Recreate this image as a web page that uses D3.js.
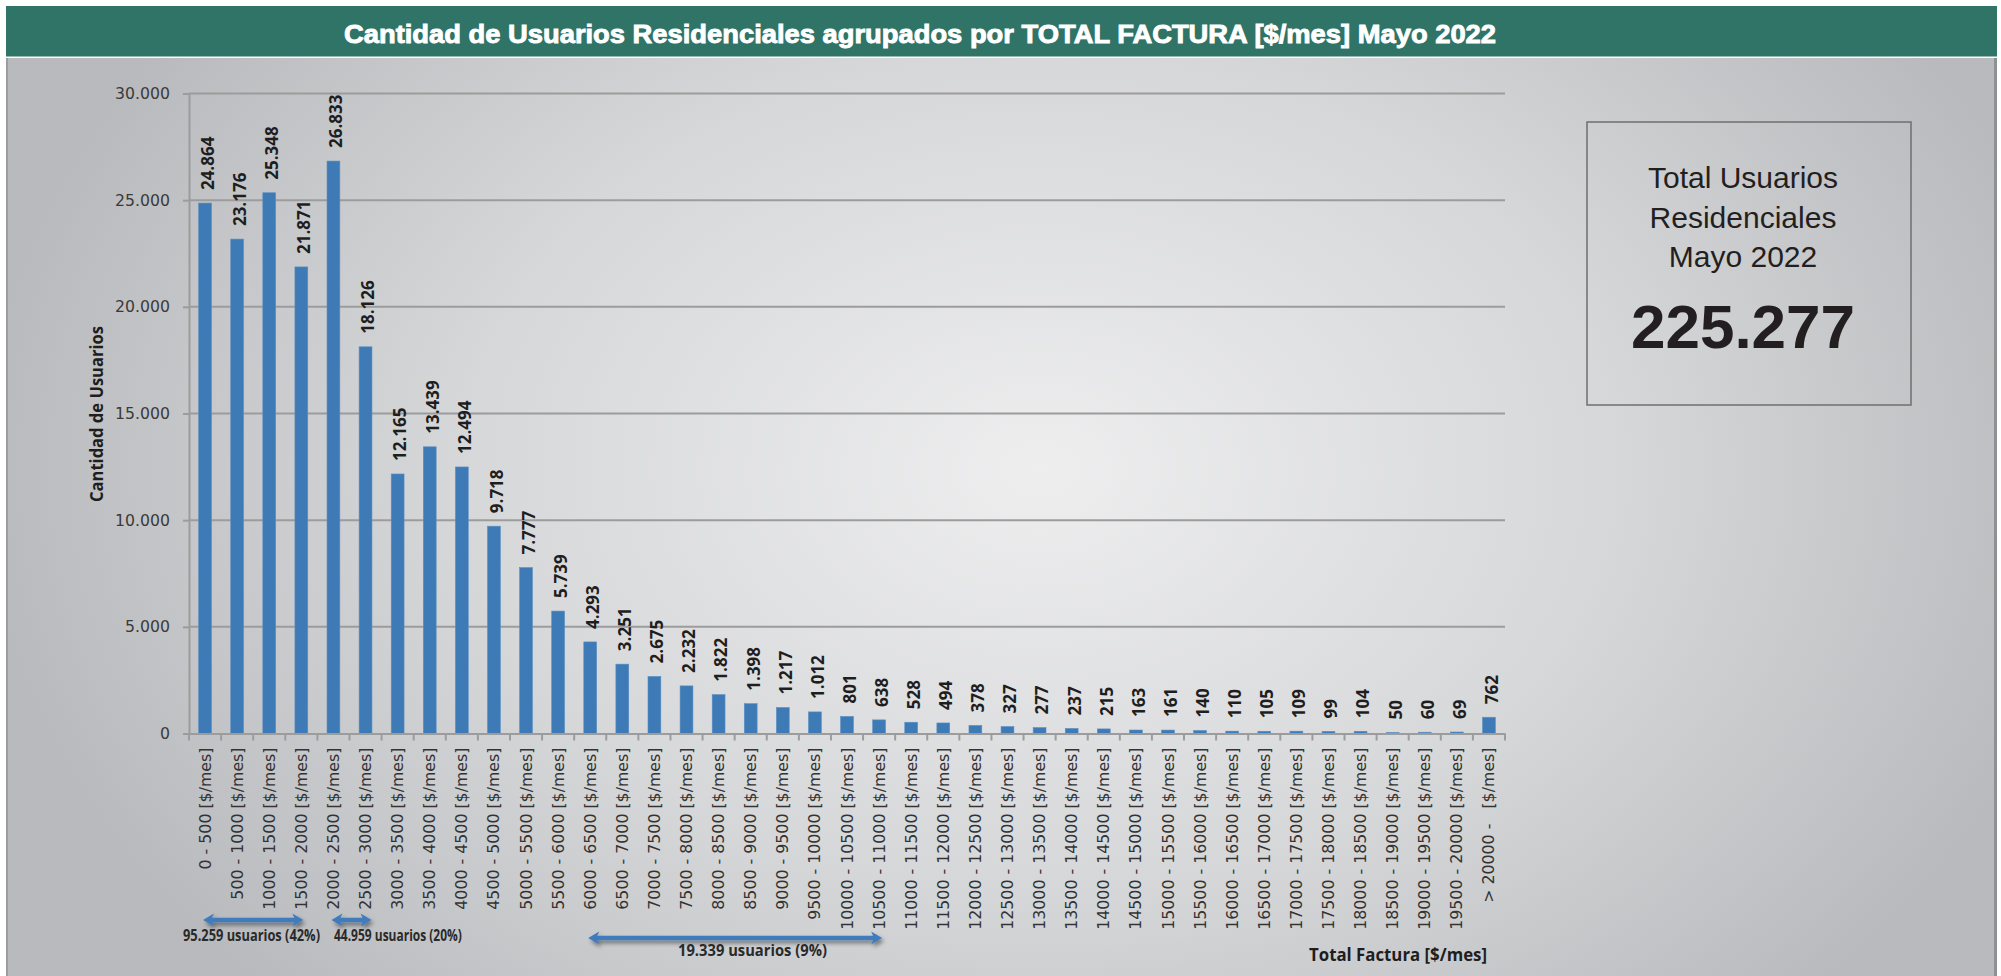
<!DOCTYPE html>
<html>
<head>
<meta charset="utf-8">
<script src="https://cdn.jsdelivr.net/npm/d3@7"></script>
<style>
  body { margin: 0; background: #fff; }
  svg { display: block; }
</style>
</head>
<body>
<div id="vis"></div>
<script>
// rangos de factura (categorias del eje x)
const rangos = [
  "0 - 500 [$/mes]", "500 - 1000 [$/mes]", "1000 - 1500 [$/mes]", "1500 - 2000 [$/mes]",
  "2000 - 2500 [$/mes]", "2500 - 3000 [$/mes]", "3000 - 3500 [$/mes]", "3500 - 4000 [$/mes]",
  "4000 - 4500 [$/mes]", "4500 - 5000 [$/mes]", "5000 - 5500 [$/mes]", "5500 - 6000 [$/mes]",
  "6000 - 6500 [$/mes]", "6500 - 7000 [$/mes]", "7000 - 7500 [$/mes]", "7500 - 8000 [$/mes]",
  "8000 - 8500 [$/mes]", "8500 - 9000 [$/mes]", "9000 - 9500 [$/mes]", "9500 - 10000 [$/mes]",
  "10000 - 10500 [$/mes]", "10500 - 11000 [$/mes]", "11000 - 11500 [$/mes]", "11500 - 12000 [$/mes]",
  "12000 - 12500 [$/mes]", "12500 - 13000 [$/mes]", "13000 - 13500 [$/mes]", "13500 - 14000 [$/mes]",
  "14000 - 14500 [$/mes]", "14500 - 15000 [$/mes]", "15000 - 15500 [$/mes]", "15500 - 16000 [$/mes]",
  "16000 - 16500 [$/mes]", "16500 - 17000 [$/mes]", "17000 - 17500 [$/mes]", "17500 - 18000 [$/mes]",
  "18000 - 18500 [$/mes]", "18500 - 19000 [$/mes]", "19000 - 19500 [$/mes]", "19500 - 20000 [$/mes]",
  "> 20000 -   [$/mes]"
];

// cantidad de usuarios por rango
const usuarios = [
  24864, 23176, 25348, 21871, 26833, 18126, 12165, 13439, 12494, 9718,
  7777, 5739, 4293, 3251, 2675, 2232, 1822, 1398, 1217, 1012,
  801, 638, 528, 494, 378, 327, 277, 237, 215, 163,
  161, 140, 110, 105, 109, 99, 104, 50, 60, 69,
  762
];

const yTicks = [0, 5000, 10000, 15000, 20000, 25000, 30000];

// grupos marcados con flechas (indice primero / ultimo rango)
const grupoDesde = [0, 4, 12];
const grupoHasta = [3, 5, 21];
const grupoTexto = ["95.259 usuarios (42%)", "44.959 usuarios (20%)", "19.339 usuarios (9%)"];

const titulo = "Cantidad de Usuarios Residenciales agrupados por TOTAL FACTURA [$/mes] Mayo 2022";
const totalLineas = ["Total Usuarios", "Residenciales", "Mayo 2022"];
const totalValor = "225.277";
const yTitulo = "Cantidad de Usuarios";
const xTitulo = "Total Factura [$/mes]";

function drawChart(){
  const width = 2001, height = 976;
  const plot = {left: 189, right: 1505, top: 93.5, bottom: 733.5};
  const blue = "#3e7ab6";
  const gridColor = "#9c9c9c";

  const es = d3.formatLocale({decimal: ",", thousands: ".", grouping: [3], currency: ["$", ""]});
  const fmt = es.format(",d");

  const svg = d3.select("#vis")
    .append("svg")
    .attr("width", width)
    .attr("height", height)
    .attr("viewBox", [0, 0, width, height]);

  const defs = svg.append("defs");
  const grad = defs.append("radialGradient")
    .attr("id", "fondo")
    .attr("gradientUnits", "userSpaceOnUse")
    .attr("cx", 0).attr("cy", 0).attr("r", 1)
    .attr("gradientTransform", "translate(1040,470) scale(1060,760)");
  grad.append("stop").attr("offset", 0).attr("stop-color", "#eeeeef");
  grad.append("stop").attr("offset", 0.55).attr("stop-color", "#d6d7d9");
  grad.append("stop").attr("offset", 1).attr("stop-color", "#b9babd");

  const shadow = defs.append("filter").attr("id", "sombra")
    .attr("x", "-10%").attr("y", "-100%").attr("width", "130%").attr("height", "300%");
  shadow.append("feDropShadow")
    .attr("dx", 2).attr("dy", 3).attr("stdDeviation", 2)
    .attr("flood-color", "#000").attr("flood-opacity", 0.45);

  // header
  svg.append("rect")
    .attr("x", 6).attr("y", 6).attr("width", 1991).attr("height", 50.5)
    .attr("fill", "#2f7467");
  svg.append("text")
    .attr("x", 920).attr("y", 43)
    .attr("text-anchor", "middle")
    .attr("textLength", 1152)
    .attr("lengthAdjust", "spacingAndGlyphs")
    .style("font-family", "'Liberation Sans', Arial, sans-serif")
    .style("font-weight", "bold")
    .style("font-size", "26px")
    .style("fill", "#fff")
    .style("stroke", "#fff")
    .style("stroke-width", "0.9px")
    .text(titulo);

  // panel
  svg.append("rect")
    .attr("x", 6).attr("y", 58).attr("width", 1991).attr("height", height - 58)
    .attr("fill", "url(#fondo)");
  svg.append("rect").attr("x", 6).attr("y", 58).attr("width", 2).attr("height", height - 58).attr("fill", "#9d9d9f");
  svg.append("rect").attr("x", 1994).attr("y", 58).attr("width", 3).attr("height", height - 58).attr("fill", "#8f9093");

  const x = d3.scaleBand()
    .domain(rangos)
    .range([plot.left, plot.right])
    .paddingInner(0.6)
    .paddingOuter(0.3);

  const y = d3.scaleLinear()
    .domain([0, 30000])
    .range([plot.bottom, plot.top]);

  const g = svg.append("g");

  // grid
  g.selectAll(".grid")
    .data(yTicks.filter(d => d > 0))
    .join("line")
    .attr("class", "grid")
    .attr("x1", plot.left).attr("x2", plot.right)
    .attr("y1", d => y(d)).attr("y2", d => y(d))
    .attr("stroke", gridColor)
    .attr("stroke-width", 2);

  // y axis
  const yAxis = g.append("g")
    .attr("transform", `translate(${plot.left},0)`)
    .call(d3.axisLeft(y).tickValues(yTicks).tickFormat(fmt).tickSize(6).tickPadding(13).tickSizeOuter(0));
  yAxis.select(".domain").attr("stroke", gridColor).attr("stroke-width", 2);
  yAxis.selectAll(".tick line").attr("stroke", gridColor).attr("stroke-width", 2);
  yAxis.selectAll("text")
    .style("font-family", "'DejaVu Sans', Verdana, sans-serif")
    .style("font-size", "15.7px")
    .style("fill", "#3a3a3a");

  // bars
  g.selectAll(".bar")
    .data(usuarios)
    .join("rect")
    .attr("class", "bar")
    .attr("x", (d, i) => x(rangos[i]))
    .attr("y", d => y(d))
    .attr("width", x.bandwidth())
    .attr("height", d => y(0) - y(d))
    .attr("fill", blue)
    .attr("stroke", "#5a8fc4")
    .attr("stroke-width", 0.6);

  // value labels
  g.selectAll(".valor")
    .data(usuarios)
    .join("text")
    .attr("class", "valor")
    .attr("transform", (d, i) => `translate(${x(rangos[i]) + x.bandwidth() / 2},${y(d) - 13}) rotate(-90)`)
    .attr("dy", "0.52em")
    .style("font-family", "'Open Sans', sans-serif")
    .style("font-weight", "bold")
    .style("font-size", "17px")
    .style("fill", "#1e1e1e")
    .text(d => fmt(d));

  // x axis
  const xAxis = g.append("g")
    .attr("transform", `translate(0,${plot.bottom})`)
    .call(d3.axisBottom(x).tickSize(0).tickSizeOuter(0));
  xAxis.select(".domain").attr("stroke", gridColor).attr("stroke-width", 2);
  xAxis.selectAll("text")
    .attr("transform", "rotate(-90)")
    .attr("x", -14)
    .attr("y", 0)
    .attr("dy", "0.35em")
    .style("text-anchor", "end")
    .style("white-space", "pre")
    .style("font-family", "'DejaVu Sans', Verdana, sans-serif")
    .style("font-size", "15.8px")
    .style("fill", "#333");

  // separadores de categoria
  const half = (x.step() - x.bandwidth()) / 2;
  const bordes = rangos.map(d => x(d) - half).concat([x(rangos[rangos.length - 1]) + x.bandwidth() + half]);
  xAxis.selectAll(".sep")
    .data(bordes)
    .join("line")
    .attr("class", "sep")
    .attr("x1", d => d).attr("x2", d => d)
    .attr("y1", 0).attr("y2", 7)
    .attr("stroke", gridColor)
    .attr("stroke-width", 2);

  // axis titles
  svg.append("text")
    .attr("transform", "translate(103,414) rotate(-90)")
    .attr("text-anchor", "middle")
    .attr("textLength", 176)
    .attr("lengthAdjust", "spacingAndGlyphs")
    .style("font-family", "'Open Sans', sans-serif")
    .style("font-weight", "bold")
    .style("font-size", "17px")
    .style("fill", "#1e1e1e")
    .text(yTitulo);

  svg.append("text")
    .attr("x", 1309).attr("y", 961)
    .attr("textLength", 178)
    .attr("lengthAdjust", "spacingAndGlyphs")
    .style("font-family", "'Open Sans', sans-serif")
    .style("font-weight", "bold")
    .style("font-size", "18px")
    .style("fill", "#1e1e1e")
    .text(xTitulo);

  // flechas de grupos
  const flechaY = [920, 920, 938];
  const textoY = [941, 941, 956];
  const textoX = [183, 334, 678];
  const textoLen = [137, 128, 149];
  const extra = [2, 6, 3];
  const arrow = (x1, x2, yy) => {
    const hl = 11, hh = 6.5, sh = 2.2;
    const p = d3.path();
    p.moveTo(x1, yy);
    p.lineTo(x1 + hl, yy - hh); p.lineTo(x1 + hl - 2, yy - sh);
    p.lineTo(x2 - hl + 2, yy - sh); p.lineTo(x2 - hl, yy - hh);
    p.lineTo(x2, yy);
    p.lineTo(x2 - hl, yy + hh); p.lineTo(x2 - hl + 2, yy + sh);
    p.lineTo(x1 + hl - 2, yy + sh); p.lineTo(x1 + hl, yy + hh);
    p.closePath();
    return p.toString();
  };
  const center = i => x(rangos[i]) + x.bandwidth() / 2;

  svg.selectAll(".flecha")
    .data(grupoDesde)
    .join("path")
    .attr("class", "flecha")
    .attr("d", (d, i) => arrow(center(d) - 2, center(grupoHasta[i]) + extra[i], flechaY[i]))
    .attr("fill", "#3f7bbb")
    .attr("filter", "url(#sombra)");

  // notas: escaladas en x para imitar la fuente condensada
  svg.selectAll(".nota")
    .data(grupoTexto)
    .join("text")
    .attr("class", "nota")
    .style("font-family", "'Open Sans', sans-serif")
    .style("font-weight", "bold")
    .style("font-size", "16px")
    .style("fill", "#2a2a2a")
    .text(d => d)
    .attr("transform", function(d, i){
      const sx = textoLen[i] / this.getComputedTextLength();
      return `translate(${textoX[i]},${textoY[i]}) scale(${sx},1)`;
    });

  // caja total
  const box = svg.append("g");
  box.append("rect")
    .attr("x", 1587).attr("y", 122).attr("width", 324).attr("height", 283)
    .attr("fill", "none")
    .attr("stroke", "#6f6f70")
    .attr("stroke-width", 1.5);
  box.selectAll(".linea")
    .data(totalLineas)
    .join("text")
    .attr("class", "linea")
    .attr("x", 1743)
    .attr("y", (d, i) => 188 + i * 39.5)
    .attr("text-anchor", "middle")
    .style("font-family", "'Liberation Sans', Arial, sans-serif")
    .style("font-size", "30px")
    .style("fill", "#231f20")
    .text(d => d);
  box.append("text")
    .attr("x", 1743).attr("y", 348)
    .attr("text-anchor", "middle")
    .style("font-family", "'Liberation Sans', Arial, sans-serif")
    .style("font-weight", "bold")
    .style("font-size", "62px")
    .style("fill", "#231f20")
    .text(totalValor);
}

drawChart();
</script>
</body>
</html>
